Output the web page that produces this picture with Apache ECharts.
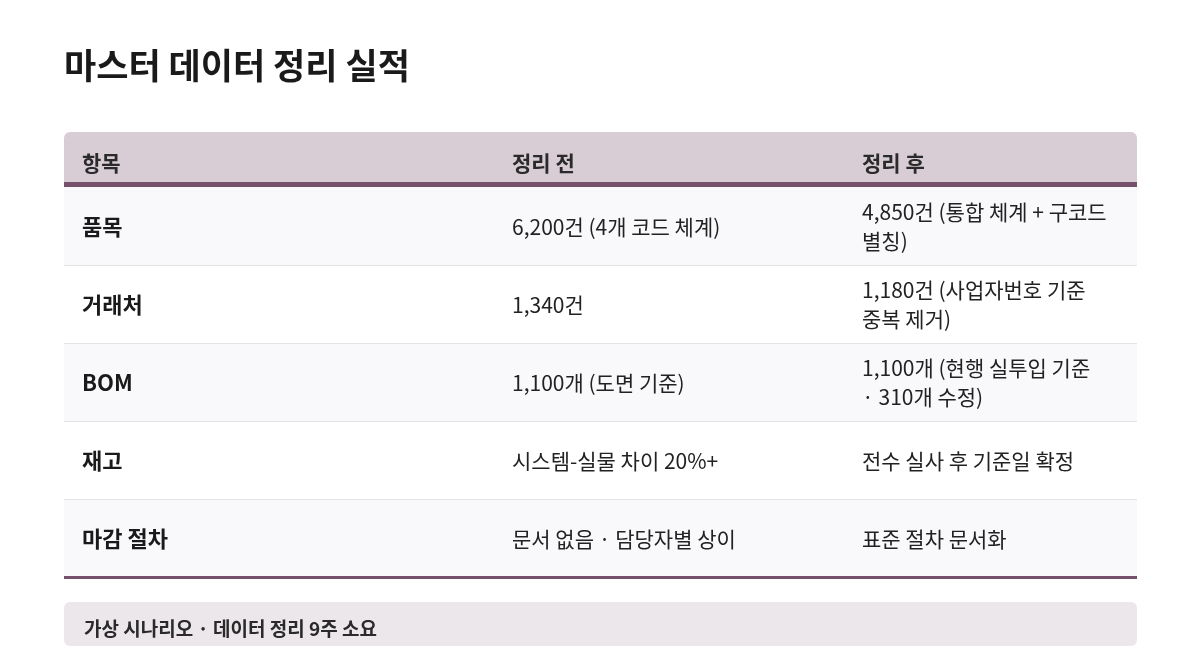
<!DOCTYPE html>
<html><head><meta charset="utf-8">
<script src="https://cdn.jsdelivr.net/npm/echarts@6/dist/echarts.min.js"></script>
<style>html,body{margin:0;background:#fff}#chart{width:1200px;height:670px}</style>
</head><body><div id="chart"></div>
<script>
var title = '마스터 데이터 정리 실적';
var headers = ['항목', '정리 전', '정리 후'];
var items = ['품목', '거래처', 'BOM', '재고', '마감 절차'];
var before = ['6,200건 (4개 코드 체계)', '1,340건', '1,100개 (도면 기준)', '시스템-실물 차이 20%+', '문서 없음 · 담당자별 상이'];
var after = ['4,850건 (통합 체계 + 구코드\n별칭)', '1,180건 (사업자번호 기준\n중복 제거)', '1,100개 (현행 실투입 기준\n· 310개 수정)', '전수 실사 후 기준일 확정', '표준 절차 문서화'];
var note = '가상 시나리오 · 데이터 정리 9주 소요';

var chart = echarts.init(document.getElementById('chart'));
var font = '"Noto Sans CJK KR", "Noto Sans", sans-serif';
var L = 64, R = 1137, colX = [82, 512, 862];
var rowTop = 187, rowH = 78;
var els = [];
els.push({type: 'text', left: L, top: 48, style: {text: title, font: 'bold 35px ' + font, fill: '#1a1a1a'}});
els.push({type: 'rect', shape: {x: L, y: 132, width: R - L, height: 52, r: [6, 6, 0, 0]}, style: {fill: '#d9cdd5'}});
headers.forEach(function (h, i) {
    els.push({type: 'text', x: colX[i], y: 163, style: {text: h, font: 'bold 21px ' + font, fill: '#2a2a2a', verticalAlign: 'middle'}});
});
els.push({type: 'rect', shape: {x: L, y: 182, width: R - L, height: 5}, style: {fill: '#76506c'}});
items.forEach(function (it, i) {
    var y = rowTop + i * rowH;
    els.push({type: 'rect', shape: {x: L, y: y, width: R - L, height: rowH}, style: {fill: i % 2 === 0 ? '#f9f9fb' : '#ffffff'}});
    if (i > 0) els.push({type: 'rect', shape: {x: L, y: y, width: R - L, height: 1}, style: {fill: '#e6e3e6'}});
    var cy = y + rowH / 2 + 1;
    els.push({type: 'text', x: colX[0], y: cy, style: {text: it, font: 'bold 22px ' + font, fill: '#1a1a1a', verticalAlign: 'middle'}});
    els.push({type: 'text', x: colX[1], y: cy, style: {text: before[i], font: '21px ' + font, fill: '#222', verticalAlign: 'middle'}});
    els.push({type: 'text', x: colX[2], y: cy, style: {text: after[i], font: '21px ' + font, fill: '#222', verticalAlign: 'middle', lineHeight: 29}});
});
els.push({type: 'rect', shape: {x: L, y: rowTop + items.length * rowH - 1, width: R - L, height: 3}, style: {fill: '#76506c'}});
els.push({type: 'rect', shape: {x: L, y: 602, width: R - L, height: 44, r: 6}, style: {fill: '#ece7eb'}});
els.push({type: 'text', x: 84, y: 629, style: {text: note, font: 'bold 19px ' + font, fill: '#2a2a2a', verticalAlign: 'middle'}});
chart.setOption({animation: false, graphic: els});
</script></body></html>
